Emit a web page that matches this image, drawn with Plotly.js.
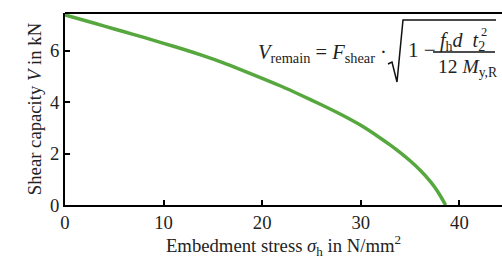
<!DOCTYPE html>
<html>
<head>
<meta charset="utf-8">
<script src="https://cdn.plot.ly/plotly-3.0.1.min.js"></script>
<style>html,body{margin:0;padding:0;background:#fff;}#chart{width:502px;height:259px;}</style>
</head>
<body>
<div id="chart"></div>
<script>
// Data
var stress = [0, 2, 4, 6, 8, 10, 12, 14, 16, 18, 20, 22, 24, 26, 28, 30, 32, 33, 34, 35, 36, 37, 37.5, 38, 38.6];
var shearCapacity = [7.40, 7.18, 6.96, 6.74, 6.52, 6.29, 6.06, 5.81, 5.54, 5.24, 4.93, 4.61, 4.26, 3.90, 3.52, 3.10, 2.60, 2.33, 2.04, 1.72, 1.36, 0.94, 0.69, 0.40, 0.0];
var xTicks = [0, 10, 20, 30, 40];
var yTicks = [0, 2, 4, 6];

// layout geometry (pixels)
var W = 502, H = 259, ML = 65, MR = 0, MT = 13, MB = 54;
var PW = W - ML - MR, PH = H - MT - MB;
function X(px) { return (px - ML) / PW; }
function Y(py) { return (H - MB - py) / PH; }

var FONT = "Liberation Serif, Times New Roman, serif";
var TXT = "#222";
var FS = 18.7;

var trace = {
  x: stress, y: shearCapacity, type: "scatter", mode: "lines",
  line: {color: "rgb(86,168,62)", width: 3.5, shape: "spline", smoothing: 0.7},
  hoverinfo: "skip", showlegend: false
};

function ann(text, px, py, xa, size) {
  return {text: text, xref: "paper", yref: "paper", x: X(px), y: Y(py),
    xanchor: xa, yanchor: "middle", showarrow: false,
    font: {family: FONT, size: size, color: TXT}};
}

var layout = {
  width: W, height: H,
  margin: {l: ML, r: MR, t: MT, b: MB, pad: 0},
  paper_bgcolor: "#fff", plot_bgcolor: "#fff",
  font: {family: FONT, size: FS, color: TXT},
  xaxis: {
    range: [0, PW / 9.86], tickvals: xTicks, ticktext: xTicks.map(String),
    ticks: "inside", ticklen: 5, tickwidth: 2, tickcolor: "#000",
    showline: true, linecolor: "#000", linewidth: 2, mirror: false,
    showgrid: false, zeroline: false,
    tickfont: {family: FONT, size: FS, color: TXT},
    title: {text: "Embedment stress <i>σ</i><sub>h</sub> in N/mm<sup>2</sup>", font: {family: FONT, size: FS, color: TXT}, standoff: 2}
  },
  yaxis: {
    range: [0, PH / 25.7], tickvals: yTicks, ticktext: yTicks.map(String),
    ticks: "inside", ticklen: 5, tickwidth: 2, tickcolor: "#000",
    showline: true, linecolor: "#000", linewidth: 2, mirror: false,
    showgrid: false, zeroline: false,
    tickfont: {family: FONT, size: FS, color: TXT},
    title: {text: "Shear capacity <i>V</i> in kN", font: {family: FONT, size: FS, color: TXT}, standoff: 3}
  },
  shapes: [
    // top frame line
    {type: "line", xref: "paper", yref: "paper", x0: 0, x1: 1, y0: 1, y1: 1, line: {color: "#000", width: 2}},
    // fraction bar
    {type: "line", xref: "paper", yref: "paper", x0: X(433), x1: X(495), y0: Y(52), y1: Y(52), line: {color: "#111", width: 1.5}},
    // radical sign
    {type: "path", xref: "paper", yref: "paper",
     path: "M " + X(388) + "," + Y(64) + " L " + X(392) + "," + Y(62) + " L " + X(397) + "," + Y(82) + " L " + X(403) + "," + Y(20) + " L " + X(496) + "," + Y(20),
     line: {color: "#111", width: 1.5}}
  ],
  annotations: [
    ann("<i>V</i><sub>remain</sub> = <i>F</i><sub>shear</sub> ·", 389, 53, "right", 20.5),
    ann("1 −", 406, 50, "left", 21),
    ann("<i>f</i><sub>h</sub><i>d</i>&nbsp;&nbsp;<i>t</i><sub>2</sub>", 438, 41, "left", 20),
    ann("2", 479, 32, "left", 12.5),
    ann("12 <i>M</i><sub>y,R</sub>", 436, 68, "left", 19.5)
  ]
};

Plotly.newPlot("chart", [trace], layout, {staticPlot: true, displayModeBar: false});
</script>
</body>
</html>
